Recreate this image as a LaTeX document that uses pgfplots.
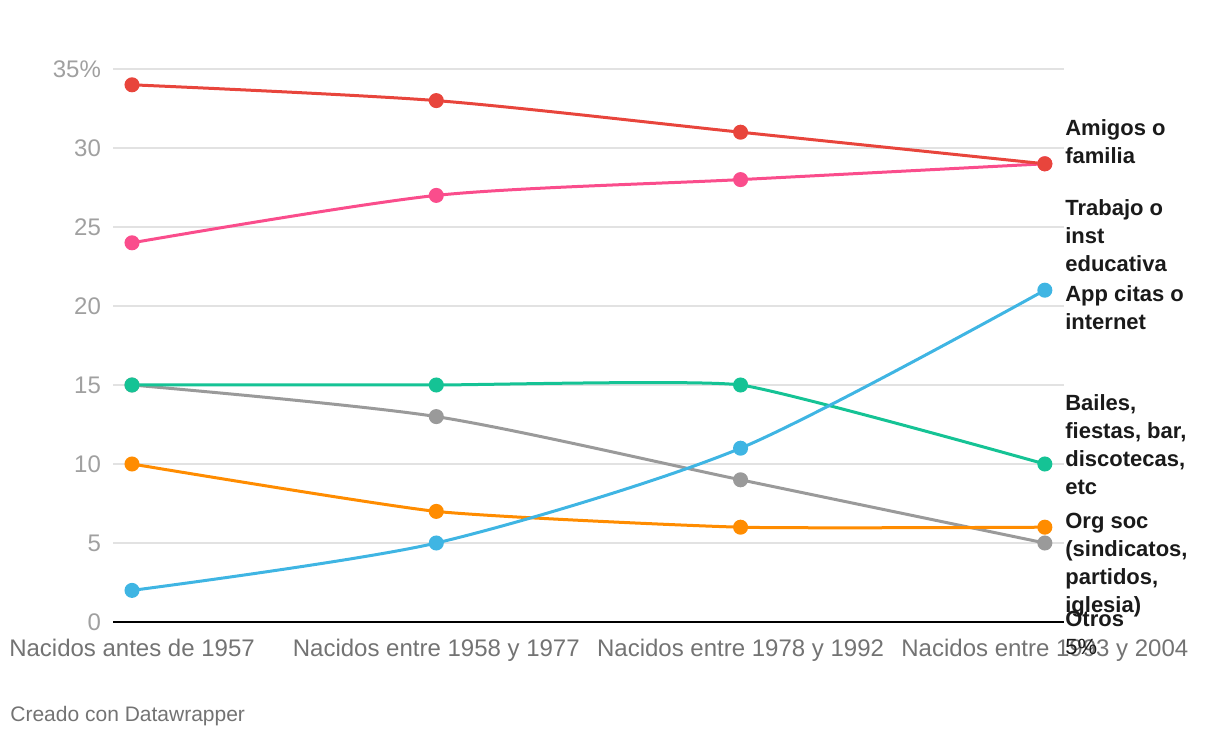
\documentclass[border=0pt]{standalone}
\usepackage{fontspec}
\setmainfont{Liberation Sans}
\usepackage{pgfplots}
\pgfplotsset{compat=1.18}
\definecolor{cred}{HTML}{E8453C}
\definecolor{cpink}{HTML}{FA4D8C}
\definecolor{cblue}{HTML}{3FB5E3}
\definecolor{cgreen}{HTML}{15C395}
\definecolor{corange}{HTML}{FF8C00}
\definecolor{cgray}{HTML}{9A9A9A}
\definecolor{gridc}{HTML}{E2E2E2}
\definecolor{ytc}{HTML}{A0A0A0}
\definecolor{xtc}{HTML}{737373}
\definecolor{labc}{HTML}{1A1A1A}
\begin{document}
\begin{tikzpicture}
\path[use as bounding box] (0,0) rectangle (610pt,369pt);
\begin{axis}[
  at={(56.5pt,58pt)}, anchor=south west, scale only axis,
  width=475.5pt, height=276.5pt,
  xmin=-0.0625, xmax=3.063, ymin=0, ymax=35,
  clip=false,
  axis line style={draw=none},
  major tick length=0pt,
  xtick={0,1,2,3},
  xticklabels={Nacidos antes de 1957,Nacidos entre 1958 y 1977,Nacidos entre 1978 y 1992,Nacidos entre 1993 y 2004},
  ytick={0,5,10,15,20,25,30,35},
  yticklabels={0,5,10,15,20,25,30,35\%},
  ymajorgrids, grid style={color=gridc, line width=0.6pt},
  xticklabel style={font=\fontsize{12}{14}\selectfont, text=xtc, yshift=-5pt},
  yticklabel style={font=\fontsize{12}{14}\selectfont, text=ytc, xshift=-2.5pt},
  every axis plot/.append style={line width=1.5pt, smooth, tension=0.45, mark=*, mark size=3pt, mark options={solid}},
]
\draw[black, line width=1pt] (rel axis cs:0,0) -- (rel axis cs:1,0);
\addplot[cgray, mark options={fill=cgray, draw=cgray}] coordinates {(0,15) (1,13) (2,9) (3,5)};
\addplot[corange, tension=0.3, mark options={fill=corange, draw=corange}] coordinates {(0,10) (1,7) (2,6) (3,6)};
\addplot[cgreen, tension=0.25, mark options={fill=cgreen, draw=cgreen}] coordinates {(0,15) (1,15) (2,15) (3,10)};
\addplot[cblue, mark options={fill=cblue, draw=cblue}] coordinates {(0,2) (1,5) (2,11) (3,21)};
\addplot[cpink, mark options={fill=cpink, draw=cpink}] coordinates {(0,24) (1,27) (2,28) (3,29)};
\addplot[cred, mark options={fill=cred, draw=cred}] coordinates {(0,34) (1,33) (2,31) (3,29)};
\begin{scope}[every node/.style={anchor=west, align=left, inner sep=0pt, text=labc, font=\fontsize{11}{14}\selectfont\bfseries}]
\node at (axis cs:3.066,30.38) {Amigos o\\familia};
\node at (axis cs:3.066,24.43) {Trabajo o\\inst\\educativa};
\node at (axis cs:3.066,19.87) {App citas o\\internet};
\node at (axis cs:3.066,11.2) {Bailes,\\fiestas, bar,\\discotecas,\\etc};
\node at (axis cs:3.066,3.58) {Org soc\\(sindicatos,\\partidos,\\iglesia)};
\node at (axis cs:3.066,-0.7) {Otros\\\mdseries 5\%};
\end{scope}
\end{axis}
\node[anchor=west, inner sep=0pt, text=xtc, font=\fontsize{10.5}{12}\selectfont] at (5pt,11pt) {Creado con Datawrapper};
\end{tikzpicture}
\end{document}
